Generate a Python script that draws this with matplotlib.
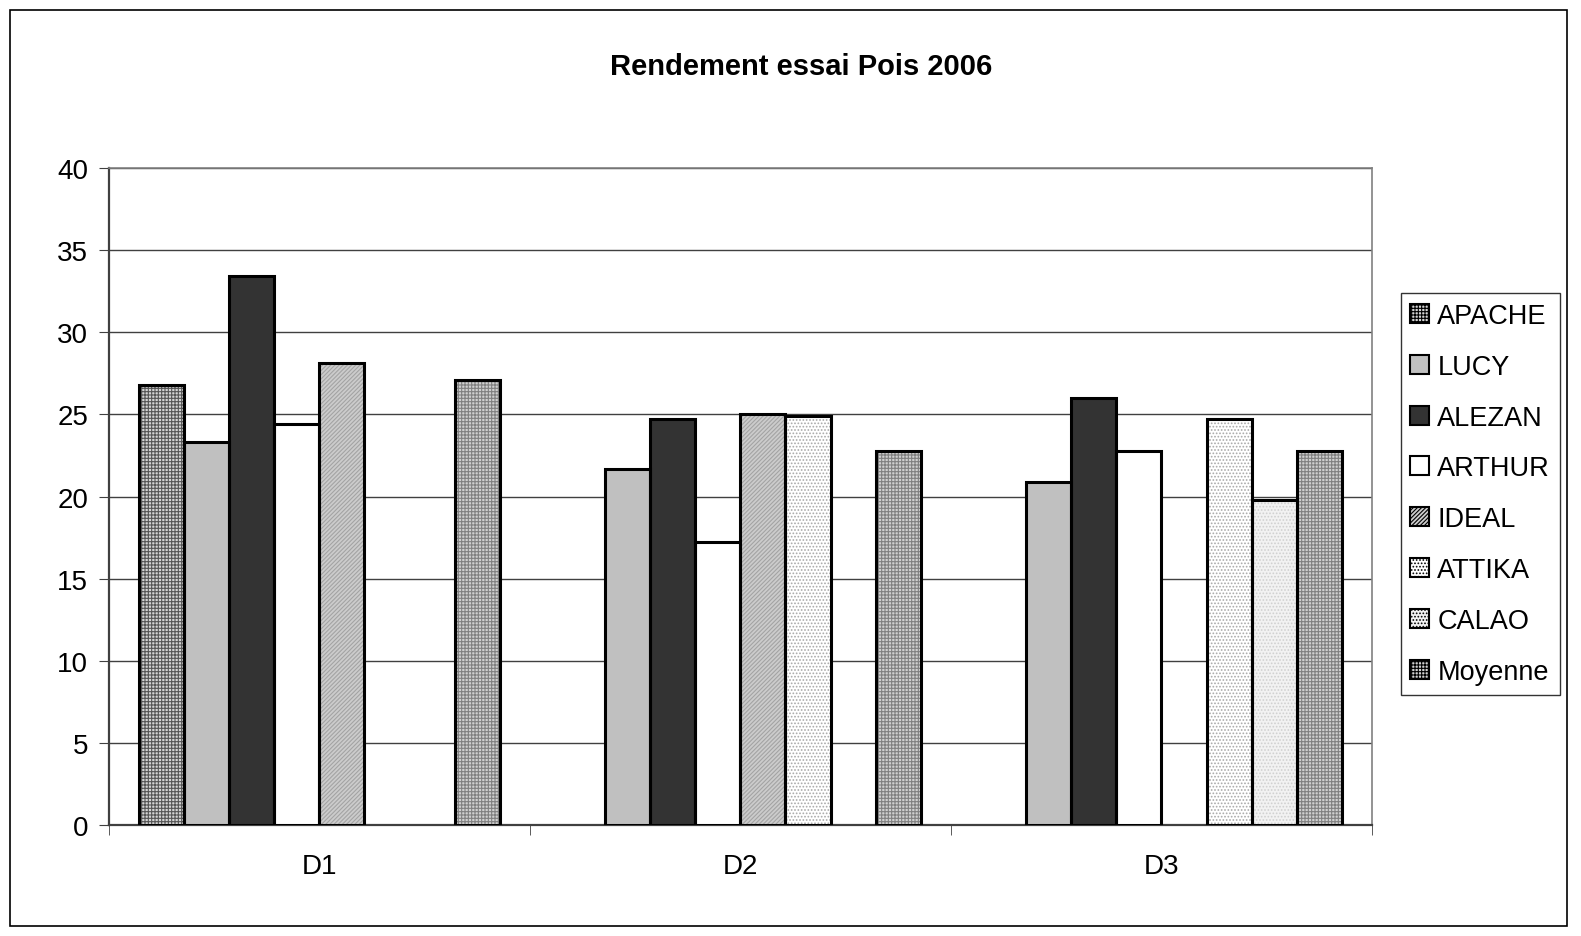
import matplotlib.pyplot as plt
import numpy as np
from matplotlib.patches import Rectangle, Patch

plt.rcParams['font.family'] = ['Liberation Sans', 'DejaVu Sans']
plt.rcParams['hatch.linewidth'] = 0.8

# donnees
groupes = ['D1', 'D2', 'D3']
varietes = ['APACHE', 'LUCY', 'ALEZAN', 'ARTHUR', 'IDEAL', 'ATTIKA', 'CALAO', 'Moyenne']
apache = [26.8, np.nan, np.nan]
lucy = [23.3, 21.7, 20.9]
alezan = [33.4, 24.7, 26.0]
arthur = [24.4, 17.2, 22.8]
ideal = [28.1, 25.0, np.nan]
attika = [np.nan, 24.9, 24.7]
calao = [np.nan, np.nan, 19.8]
moyenne = [27.1, 22.8, 22.8]
valeurs = [apache, lucy, alezan, arthur, ideal, attika, calao, moyenne]

# styles (fond, motif, couleur du motif)
styles = [
    ('#d4d4d4', '+++++', '#555555'),
    ('#c0c0c0', '', '#c0c0c0'),
    ('#333333', '', '#333333'),
    ('#ffffff', '', '#ffffff'),
    ('#cccccc', '////////', '#a4a4a4'),
    ('#ffffff', '.....', '#a8a8a8'),
    ('#f2f2f2', '.....', '#d0d0d0'),
    ('#d0d0d0', '+++++', '#808080'),
]

fig = plt.figure(figsize=(15.81, 9.37), dpi=100)
ax = fig.add_axes([0.0689, 0.1185, 0.7989, 0.7011])

x = np.arange(len(groupes))
w = 1 / (len(varietes) + 1.35)
for i, (nom, vals) in enumerate(zip(varietes, valeurs)):
    fc, hatch, hc = styles[i]
    pos = x + (i - (len(varietes) - 1) / 2) * w
    ax.bar(pos, vals, w, color=fc, hatch=hatch, edgecolor=hc, linewidth=0, zorder=3)
    ax.bar(pos, vals, w, fill=False, edgecolor='black', linewidth=2.2, zorder=4)

ax.set_xlim(-0.5, 2.5)
ax.set_ylim(0, 40)
ax.set_yticks(range(0, 41, 5))
ax.yaxis.grid(True, color='#404040', linewidth=1)
ax.set_axisbelow(True)
ax.set_xticks(x)
ax.set_xticklabels(groupes)
ax.set_xticks([-0.5, 0.5, 1.5, 2.5], minor=True)
ax.tick_params(axis='x', which='major', length=0, pad=20, labelsize=20)
ax.tick_params(axis='x', which='minor', length=7, color='#404040', direction='out')
ax.tick_params(axis='y', length=7, color='#404040', labelsize=20, pad=8)
for s in ['top', 'right']:
    ax.spines[s].set_color('#808080')
    ax.spines[s].set_linewidth(1.2)
for s in ['left', 'bottom']:
    ax.spines[s].set_color('#404040')
    ax.spines[s].set_linewidth(1.6)

fig.text(0.507, 0.928, 'Rendement essai Pois 2006', ha='center', va='center',
         fontsize=21, fontweight='bold')

handles = [Patch(facecolor=st[0], hatch=st[1], edgecolor='black', linewidth=1.5)
           for st in styles]
leg = fig.legend(handles, varietes, loc='upper left', bbox_to_anchor=(0.886, 0.686),
                 fontsize=19.5, frameon=True, fancybox=False, edgecolor='black',
                 handlelength=0.7, handleheight=0.7, handletextpad=0.3,
                 labelspacing=0.92, borderpad=0.35, borderaxespad=0)
leg.get_frame().set_linewidth(1.0)

fig.patches.append(Rectangle((0.0063, 0.0107), 0.9848, 0.978, transform=fig.transFigure,
                             fill=False, edgecolor='black', linewidth=1.2))

plt.savefig('out.png', dpi=100)
